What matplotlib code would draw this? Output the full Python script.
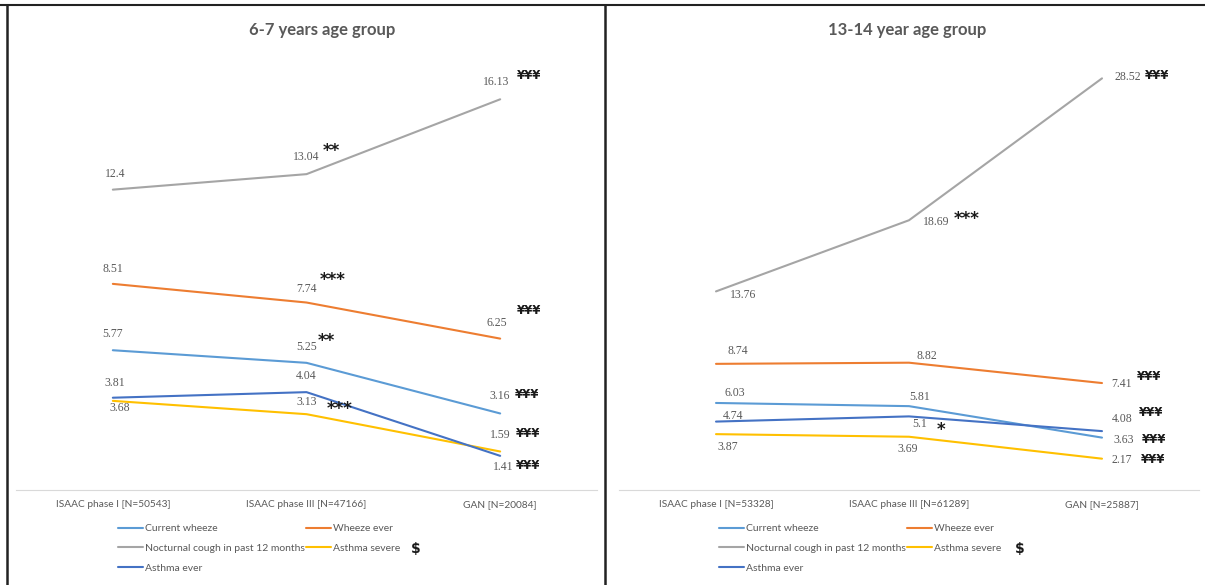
import matplotlib.pyplot as plt
from matplotlib.lines import Line2D

# categories for each age group
cats_young = ["ISAAC phase I [N=50543]", "ISAAC phase III [N=47166]", "GAN [N=20084]"]
cats_old = ["ISAAC phase I [N=53328]", "ISAAC phase III [N=61289]", "GAN [N=25887]"]

series_names = ["Current wheeze", "Wheeze ever", "Nocturnal cough in past 12 months",
                "Asthma severe", "Asthma ever"]
colors = ["#5B9BD5", "#ED7D31", "#A5A5A5", "#FFC000", "#4472C4"]

# 6-7 years
young_current_wheeze = [5.77, 5.25, 3.16]
young_wheeze_ever = [8.51, 7.74, 6.25]
young_night_cough = [12.4, 13.04, 16.13]
young_asthma_severe = [3.68, 3.13, 1.59]
young_asthma_ever = [3.81, 4.04, 1.41]

# 13-14 years
old_current_wheeze = [6.03, 5.81, 3.63]
old_wheeze_ever = [8.74, 8.82, 7.41]
old_night_cough = [13.76, 18.69, 28.52]
old_asthma_severe = [3.87, 3.69, 2.17]
old_asthma_ever = [4.74, 5.1, 4.08]

# significance marks (series index, point index, text)
young_marks = [(2, 1, "**"), (2, 2, "¥¥¥"), (1, 1, "***"), (1, 2, "¥¥¥"),
               (0, 1, "**"), (0, 2, "¥¥¥"), (3, 1, "***"), (3, 2, "¥¥¥"), (4, 2, "¥¥¥")]
old_marks = [(2, 1, "***"), (2, 2, "¥¥¥"), (1, 2, "¥¥¥"), (4, 1, "*"), (4, 2, "¥¥¥"),
             (0, 2, "¥¥¥"), (3, 2, "¥¥¥")]

# label offsets in pixels (dx, dy), per series per point
young_lab_off = [[(0, 16), (0, 16), (0, 17)],
                 [(0, 15), (0, 14), (-3, 16)],
                 [(2, 16), (0, 17), (-4, 17)],
                 [(7, -7), (0, 12), (0, 16)],
                 [(2, 15), (0, 16), (3, -11)]]
old_lab_off = [[(19, 10), (11, 9), (22, -2)],
               [(22, 13), (18, 7), (20, -1)],
               [(27, -4), (27, -2), (26, 1)],
               [(12, -13), (-1, -12), (20, -1)],
               [(17, 6), (11, -8), (20, 12)]]
young_mark_off = {(2, 1): (25, 28), (2, 2): (29, 24), (1, 1): (26, 28), (1, 2): (29, 28),
                  (0, 1): (20, 27), (0, 2): (27, 19), (3, 1): (33, 10), (3, 2): (28, 18),
                  (4, 2): (28, -10)}
old_mark_off = {(2, 1): (58, 6), (2, 2): (55, 3), (1, 2): (47, 7), (4, 1): (32, -9),
                (4, 2): (49, 19), (0, 2): (52, -2), (3, 2): (51, -1)}

W, H = 1205, 585
fig = plt.figure(figsize=(W / 100, H / 100), dpi=100)
grey = "#595959"


def px_ax(x0, x1, ytop, ybot):
    return fig.add_axes([x0 / W, 1 - ybot / H, (x1 - x0) / W, (ybot - ytop) / H])


def draw_panel(ax, cats, data, ymax, lab_off, marks, mark_off):
    x = list(range(len(cats)))
    handles = []
    for k, vals in enumerate(data):
        h, = ax.plot(x, vals, color=colors[k], lw=1.5, solid_capstyle="round")
        handles.append(h)
        for i, v in enumerate(vals):
            dx, dy = lab_off[k][i]
            ax.annotate(f"{v:g}", (i, v), xytext=(dx, dy), textcoords="offset pixels",
                        ha="center", va="center", fontsize=8.5, color=grey,
                        family="Liberation Serif")
    for k, i, txt in marks:
        dx, dy = mark_off[(k, i)]
        star = txt.startswith("*")
        ax.annotate(txt, (i, data[k][i]), xytext=(dx, dy - 5 if star else dy),
                    textcoords="offset pixels", ha="center", va="center",
                    fontsize=12 if star else 8.5, fontweight="bold", color="#1a1a1a")
    ax.set_xlim(-0.5, 2.5)
    ax.set_ylim(0, ymax)
    ax.set_xticks(x)
    ax.set_xticklabels(cats, fontsize=7.3, color=grey, family="Lato")
    ax.tick_params(axis="x", length=0, pad=7)
    ax.set_yticks([])
    for s in ["top", "right", "left"]:
        ax.spines[s].set_visible(False)
    ax.spines["bottom"].set_color("#D9D9D9")
    ax.spines["bottom"].set_linewidth(0.8)
    return handles


ax1 = px_ax(16, 597, 54, 490)
young = [young_current_wheeze, young_wheeze_ever, young_night_cough,
         young_asthma_severe, young_asthma_ever]
h1 = draw_panel(ax1, cats_young, young, 18, young_lab_off, young_marks, young_mark_off)

ax2 = px_ax(619.5, 1198.5, 57, 490)
old = [old_current_wheeze, old_wheeze_ever, old_night_cough,
       old_asthma_severe, old_asthma_ever]
h2 = draw_panel(ax2, cats_old, old, 30, old_lab_off, old_marks, old_mark_off)

# legends: row order CW, WE / NC, AS / AE
order = [0, 2, 4, 1, 3]
for hs, lx, sx in [(h1, 118, 416), (h2, 719, 1020)]:
    fig.legend([hs[i] for i in order], [series_names[i] for i in order],
               loc="upper left", bbox_to_anchor=(lx / W, 1 - 524 / H), ncol=2,
               frameon=False, labelcolor=grey, prop={"family": "Lato", "size": 7.5},
               handlelength=2.4, handletextpad=0.2, columnspacing=0.1, labelspacing=1.0,
               borderpad=0, borderaxespad=0)
    fig.text(sx / W, 1 - 549 / H, "$", fontsize=10, fontweight="bold", color="#1a1a1a",
             ha="center", va="center")

fig.text(322 / W, 1 - 30 / H, "6-7 years age group", ha="center", va="center",
         fontsize=12, fontweight="bold", color=grey, family="Lato")
fig.text(907 / W, 1 - 30 / H, "13-14 year age group", ha="center", va="center",
         fontsize=12, fontweight="bold", color=grey, family="Lato")

# panel frame lines
fig.add_artist(Line2D([0, 1], [1 - 5 / H, 1 - 5 / H], transform=fig.transFigure, color="#222222", lw=1.5))
fig.add_artist(Line2D([7 / W, 7 / W], [0, 1 - 5 / H], transform=fig.transFigure, color="#222222", lw=1.8))
fig.add_artist(Line2D([605 / W, 605 / W], [0, 1 - 5 / H], transform=fig.transFigure, color="#222222", lw=1.8))

fig.savefig("out.png", dpi=100, facecolor="white")
